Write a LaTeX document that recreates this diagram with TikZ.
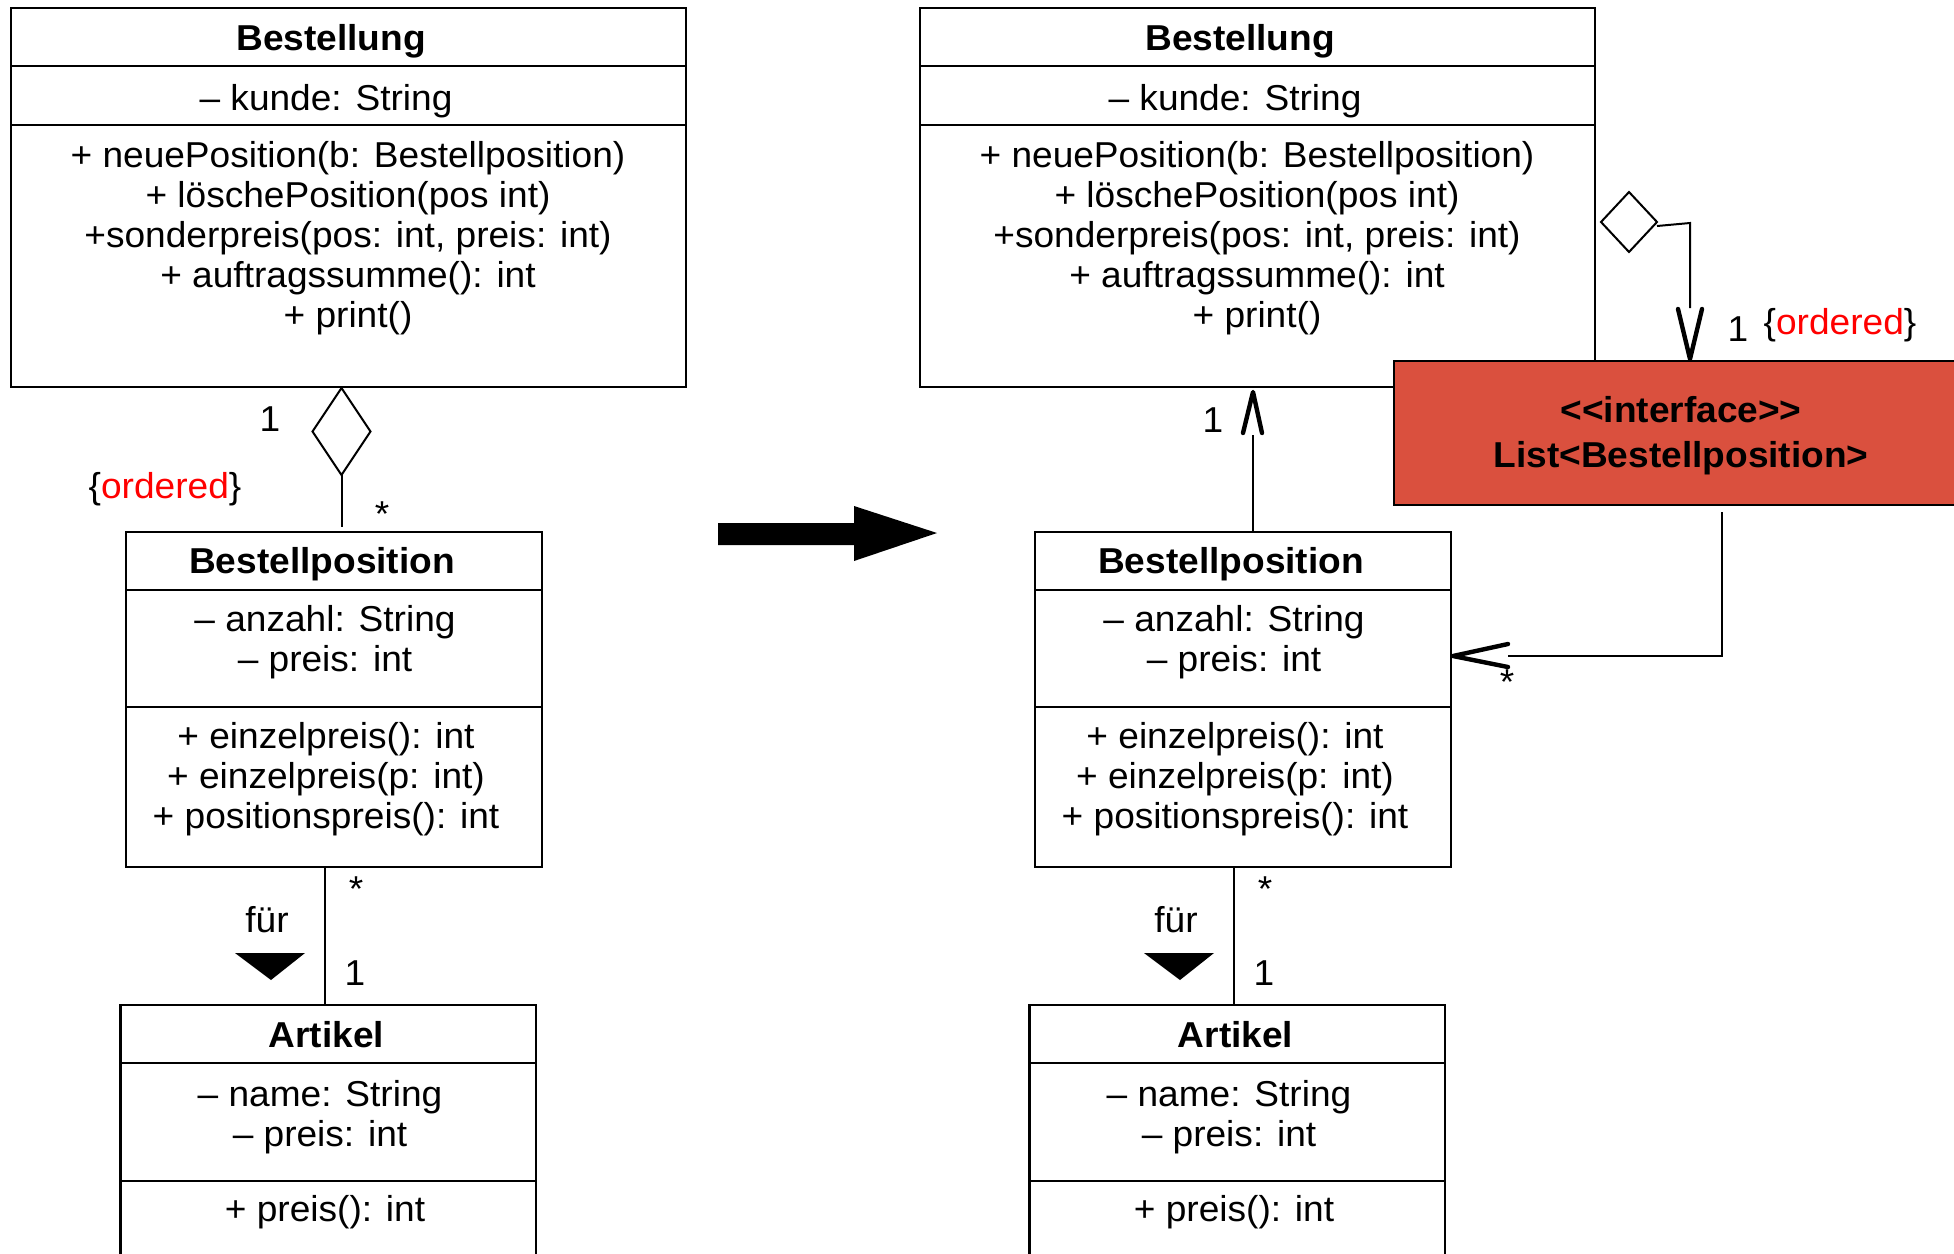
\documentclass[tikz,border=0pt]{standalone}
\usepackage{fontspec}
\setmainfont{Liberation Sans}[FakeStretch=1.03]
\usetikzlibrary{shapes.geometric,calc}
\definecolor{ifred}{RGB}{218,80,62}
\begin{document}
\begin{tikzpicture}[x=0.5pt,y=-0.5pt,
  every node/.style={font=\fontsize{18pt}{20pt}\selectfont},
  cbox/.style={draw, line width=1.3pt, inner sep=0pt, outer sep=0pt, anchor=north west},
  txt/.style={anchor=base, inner sep=0pt},
  ttl/.style={anchor=base, inner sep=0pt, font=\fontsize{18pt}{20pt}\selectfont\bfseries},
  lbl/.style={inner sep=0pt},
  conn/.style={line width=1pt},
  agg/.style={draw, diamond, line width=1pt, inner sep=0pt, outer sep=0pt, fill=white},
  vhead/.style={line width=2.2pt, line join=round, line cap=round}
]
\useasboundingbox (0,0) rectangle (1954,1253);
\clip (0,0) rectangle (1954,1253);

% ---------- LEFT: Bestellung ----------
\node[cbox, minimum width=337.5pt, minimum height=29pt]   (LBt) at (11,8) {};
\node[cbox, minimum width=337.5pt, minimum height=29.5pt] (LBa) at (11,66) {};
\node[cbox, minimum width=337.5pt, minimum height=131pt]  (LBm) at (11,125) {};
\node[ttl] (LBtt) at (331,50) {Bestellung};
\node[txt] (LBa1) at (326,110) {– kunde: String};
\node[txt] (LBm1) at (348,167) {+ neuePosition(b: Bestellposition)};
\node[txt] (LBm2) at (348,207) {+ löschePosition(pos int)};
\node[txt] (LBm3) at (348,247) {+sonderpreis(pos: int, preis: int)};
\node[txt] (LBm4) at (348,287) {+ auftragssumme(): int};
\node[txt] (LBm5) at (348,327) {+ print()};

% ---------- LEFT: Bestellposition ----------
\node[cbox, minimum width=208pt, minimum height=29pt]   (LPt) at (126,532) {};
\node[cbox, minimum width=208pt, minimum height=58.5pt] (LPa) at (126,590) {};
\node[cbox, minimum width=208pt, minimum height=80pt]   (LPm) at (126,707) {};
\node[ttl] (LPtt) at (322,573) {Bestellposition};
\node[txt] (LPa1) at (325,631) {– anzahl: String};
\node[txt] (LPa2) at (325,671) {– preis: int};
\node[txt] (LPm1) at (326,748) {+ einzelpreis(): int};
\node[txt] (LPm2) at (326,788) {+ einzelpreis(p: int)};
\node[txt] (LPm3) at (326,828) {+ positionspreis(): int};

% ---------- LEFT: Artikel ----------
\node[cbox, minimum width=207.75pt, minimum height=29pt] (LAt) at (120.5,1005) {};
\node[cbox, minimum width=207.75pt, minimum height=59pt] (LAa) at (120.5,1063) {};
\node[cbox, minimum width=207.75pt, minimum height=45pt] (LAm) at (120.5,1181) {};
\node[ttl] (LAtt) at (326.5,1047) {Artikel};
\node[txt] (LAa1) at (320,1106) {– name: String};
\node[txt] (LAa2) at (320,1146) {– preis: int};
\node[txt] (LAm1) at (325,1221) {+ preis(): int};

% ---------- LEFT connectors ----------
\node[agg, minimum width=29pt, minimum height=43.5pt] (LD) at (341.5,431.5) {};
\draw[conn] (LD.south) -- ($(LD.south |- LPt.north)+(0,-5)$);
\node[lbl] (L1a) at (270,419) {1};
\node[lbl] (Lord) at (165,489) {\{\textcolor{red}{ordered}\}};
\node[lbl] (Lst1) at (382,514) {*};

\coordinate (fL) at (325,930);
\draw[conn] (fL |- LPm.south) -- (fL |- LAt.north);
\node[lbl] (Lst2) at (356,889) {*};
\node[lbl] (Lfur) at (267,920) {für};
\fill (235,953) -- (305,953) -- (271,980) -- cycle;
\node[lbl] (L1b) at (355,973) {1};

% ---------- middle arrow ----------
\fill (718,523) -- (854,523) -- (854,506) -- (937,533) -- (854,561) -- (854,545) -- (718,545) -- cycle;

% ---------- RIGHT: Bestellung ----------
\node[cbox, minimum width=337.5pt, minimum height=29pt]   (RBt) at (920,8) {};
\node[cbox, minimum width=337.5pt, minimum height=29.5pt] (RBa) at (920,66) {};
\node[cbox, minimum width=337.5pt, minimum height=131pt]  (RBm) at (920,125) {};
\node[ttl] (RBtt) at (1240,50) {Bestellung};
\node[txt] (RBa1) at (1235,110) {– kunde: String};
\node[txt] (RBm1) at (1257,167) {+ neuePosition(b: Bestellposition)};
\node[txt] (RBm2) at (1257,207) {+ löschePosition(pos int)};
\node[txt] (RBm3) at (1257,247) {+sonderpreis(pos: int, preis: int)};
\node[txt] (RBm4) at (1257,287) {+ auftragssumme(): int};
\node[txt] (RBm5) at (1257,327) {+ print()};

% ---------- RIGHT: Bestellposition ----------
\node[cbox, minimum width=208pt, minimum height=29pt]   (RPt) at (1035,532) {};
\node[cbox, minimum width=208pt, minimum height=58.5pt] (RPa) at (1035,590) {};
\node[cbox, minimum width=208pt, minimum height=80pt]   (RPm) at (1035,707) {};
\node[ttl] (RPtt) at (1231,573) {Bestellposition};
\node[txt] (RPa1) at (1234,631) {– anzahl: String};
\node[txt] (RPa2) at (1234,671) {– preis: int};
\node[txt] (RPm1) at (1235,748) {+ einzelpreis(): int};
\node[txt] (RPm2) at (1235,788) {+ einzelpreis(p: int)};
\node[txt] (RPm3) at (1235,828) {+ positionspreis(): int};

% ---------- RIGHT: Artikel ----------
\node[cbox, minimum width=207.75pt, minimum height=29pt] (RAt) at (1029.5,1005) {};
\node[cbox, minimum width=207.75pt, minimum height=59pt] (RAa) at (1029.5,1063) {};
\node[cbox, minimum width=207.75pt, minimum height=45pt] (RAm) at (1029.5,1181) {};
\node[ttl] (RAtt) at (1235.5,1047) {Artikel};
\node[txt] (RAa1) at (1229,1106) {– name: String};
\node[txt] (RAa2) at (1229,1146) {– preis: int};
\node[txt] (RAm1) at (1234,1221) {+ preis(): int};

% ---------- RIGHT: interface ----------
\node[draw, fill=ifred, line width=1.3pt, inner sep=0pt, outer sep=0pt,
      minimum width=288pt, minimum height=72pt] (IF) at (1682,433) {};
\node[ttl] (IF1) at (1681,422) {<\kern0pt<interface>\kern0pt>};
\node[ttl] (IF2) at (1681,467) {List<Bestellposition>};

% aggregation Bestellung -> List
\node[agg, minimum width=28pt, minimum height=30pt] (RD) at (1629,222) {};
\coordinate (k1) at (1690,223);
\draw[conn] ([yshift=-2pt]RD.east) -- (k1) -- ($(k1 |- IF.north)+(0,-53)$);
\draw[vhead] ($(k1 |- IF.north)+(-12,-52)$) -- ($(k1 |- IF.north)+(0,-2)$) -- ($(k1 |- IF.north)+(12,-52)$);
\node[lbl] (R1a) at (1738,329) {1};
\node[lbl] (Rord) at (1840,325) {\{\textcolor{red}{ordered}\}};

% Bestellposition -> Bestellung
\coordinate (u1) at (1253,460);
\draw[conn] (u1 |- RPt.north) -- ($(u1 |- RBm.south)+(0,48)$);
\draw[vhead] ($(u1 |- RBm.south)+(-10,46)$) -- ($(u1 |- RBm.south)+(0,5)$) -- ($(u1 |- RBm.south)+(9,46)$);
\node[lbl] (R1b) at (1213,420) {1};

% List -> Bestellposition
\coordinate (k2) at (1722,656);
\draw[conn] ($(k2 |- IF.south)+(0,7)$) -- (k2) -- ($(k2 -| RPa.east)+(57,0)$);
\draw[vhead] ($(k2 -| RPa.east)+(57,-12)$) -- ($(k2 -| RPa.east)+(2,0)$) -- ($(k2 -| RPa.east)+(57,11)$);
\node[lbl] (Rst3) at (1507,682) {*};

% Bestellposition -> Artikel (right)
\coordinate (fR) at (1234,930);
\draw[conn] (fR |- RPm.south) -- (fR |- RAt.north);
\node[lbl] (Rst2) at (1265,889) {*};
\node[lbl] (Rfur) at (1176,920) {für};
\fill (1144,953) -- (1214,953) -- (1180,980) -- cycle;
\node[lbl] (R1c) at (1264,973) {1};
\end{tikzpicture}
\end{document}
